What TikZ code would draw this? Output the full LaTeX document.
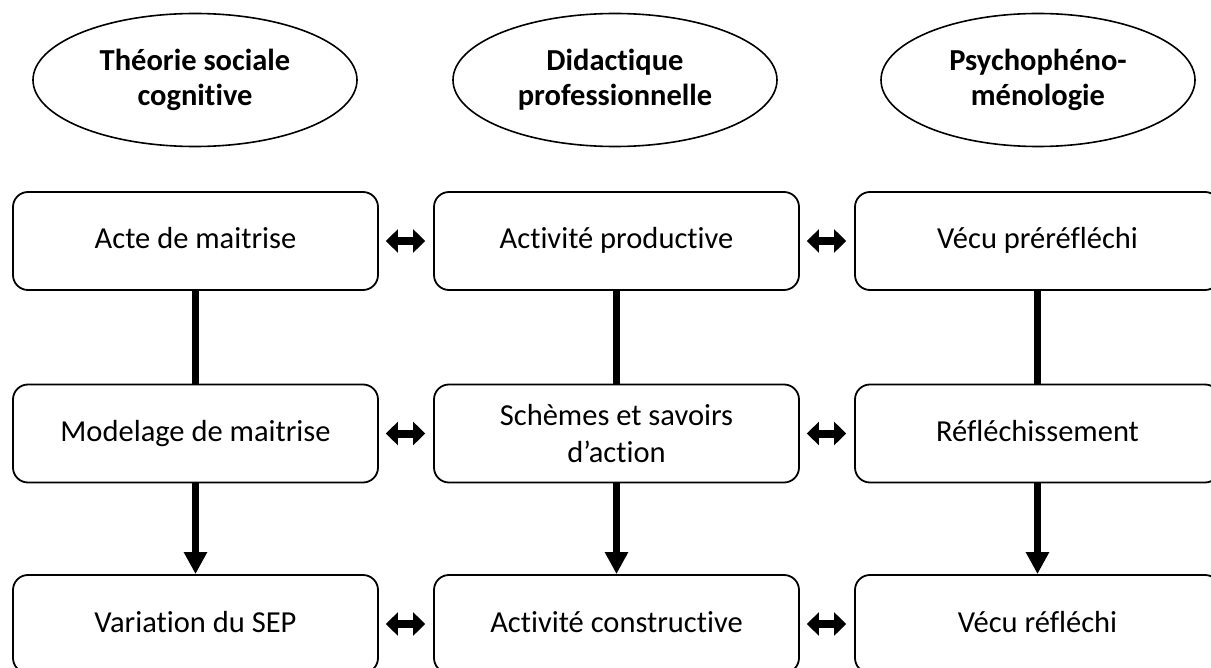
\documentclass[tikz,border=0pt]{standalone}
\usepackage{fontspec}
\setmainfont{Carlito}[Ligatures={NoCommon}]
\usetikzlibrary{arrows.meta,shapes.geometric}

\tikzset{
  theory/.style={draw, line width=1.6pt, ellipse, minimum width=#1, minimum height=133pt,
    inner sep=0pt, align=center, font=\fontsize{30.5}{35}\selectfont\bfseries},
  theory/.default=324pt,
  stage/.style={draw, line width=1.8pt, rounded corners=15pt, minimum width=365pt,
    minimum height=98pt, inner sep=0pt, align=center, text height=21pt, text depth=5pt,
    font=\fontsize{30.5}{37}\selectfont},
  link/.style={line width=7pt},
  flow/.style={line width=7pt, -{Triangle[length=22pt,width=22pt]}},
  twoway/.style={line width=8pt, {Triangle[length=12pt,width=23pt]}-{Triangle[length=12pt,width=23pt]},
    shorten <=7pt, shorten >=8pt}
}

\begin{document}
\begin{tikzpicture}[x=1pt,y=-1pt]
  \useasboundingbox (0,0) rectangle (1211,668);
  \clip (0,0) rectangle (1211,668);

  % column headings
  \node[theory] (t1) at (195,80) {Théorie sociale\\cognitive};
  \node[theory] (t2) at (615,80) {Didactique\\professionnelle};
  \node[theory=314pt] (t3) at (1038,80) {Psychophéno-\\ménologie};

  % first row
  \node[stage] (a1) at (195.5,241) {Acte de maitrise};
  \node[stage] (a2) at (616.5,241) {Activité productive};
  \node[stage] (a3) at (1037.5,241) {Vécu préréfléchi};

  % second row
  \node[stage] (b1) at (195.5,433.5) {Modelage de maitrise};
  \node[stage, text height={}, text depth={}] (b2) at (616.5,433.5) {Schèmes et savoirs\\d’action};
  \node[stage] (b3) at (1037.5,433.5) {Réfléchissement};

  % third row
  \node[stage] (c1) at (195.5,624) {Variation du SEP};
  \node[stage] (c2) at (616.5,624) {Activité constructive};
  \node[stage] (c3) at (1037.5,624) {Vécu réfléchi};

  % vertical links
  \draw[link] (a1.south) -- (b1.north);
  \draw[link] (a2.south) -- (b2.north);
  \draw[link] (a3.south) -- (b3.north);
  \draw[flow] (b1.south) -- (c1.north);
  \draw[flow] (b2.south) -- (c2.north);
  \draw[flow] (b3.south) -- (c3.north);

  % correspondences across columns
  \draw[twoway] (a1.east) -- (a2.west);
  \draw[twoway] (a2.east) -- (a3.west);
  \draw[twoway] (b1.east) -- (b2.west);
  \draw[twoway] (b2.east) -- (b3.west);
  \draw[twoway] (c1.east) -- (c2.west);
  \draw[twoway] (c2.east) -- (c3.west);
\end{tikzpicture}
\end{document}
